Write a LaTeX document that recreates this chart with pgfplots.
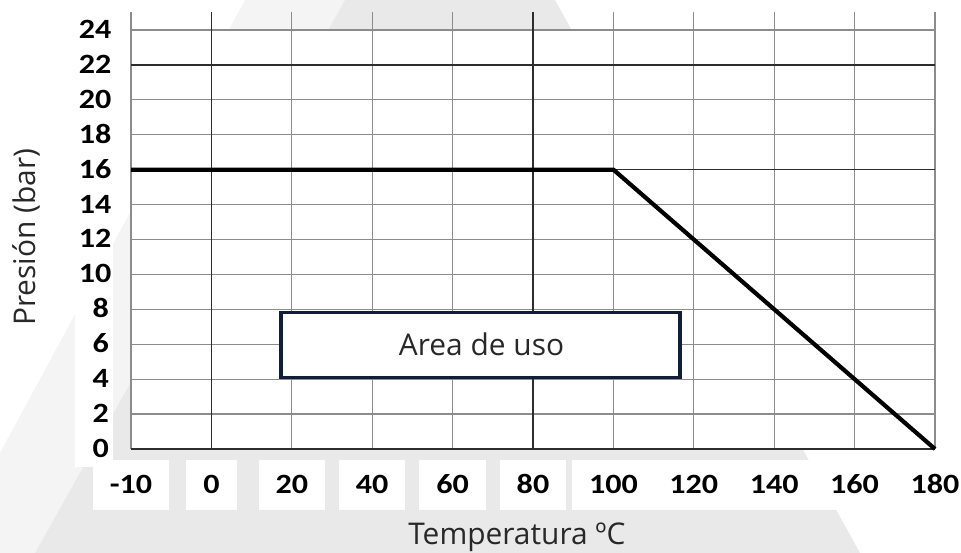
\documentclass[border=0pt]{standalone}
\usepackage{fontspec}
\setmainfont{Open Sans}
\newfontfamily\tickfont{Carlito}[FakeStretch=1.15]
\usepackage{pgfplots}
\pgfplotsset{compat=1.18}
\definecolor{gridlight}{RGB}{140,140,140}
\definecolor{griddark}{RGB}{45,45,45}
\definecolor{boxnavy}{RGB}{16,30,60}
\definecolor{wm}{RGB}{233,233,233}
\definecolor{wmlight}{RGB}{244,244,244}
\definecolor{txt}{RGB}{40,40,40}

\begin{document}
\begin{tikzpicture}
\path[use as bounding box] (0bp,0bp) rectangle (961bp,553bp);
% faint watermark behind the chart
\fill[wmlight] (245bp,553bp) -- (345bp,553bp) -- (35bp,0bp) -- (0bp,0bp) -- (0bp,100bp) -- cycle;
\fill[wm] (345bp,553bp) -- (555bp,553bp) -- (860bp,0bp) -- (35bp,0bp) -- cycle;
\fill[white] (131bp,104bp) rectangle (935bp,523bp);
\begin{axis}[
  at={(131bp,104bp)}, anchor=south west,
  width=804bp, height=437bp, scale only axis,
  xmin=0, xmax=10, ymin=0, ymax=25.03,
  clip=false,
  xtick={0,...,10},
  xticklabels={-10,0,20,40,60,80,100,120,140,160,180},
  ytick={0,2,...,24},
  /pgf/number format/assume math mode=true,
  major tick length=0pt,
  grid=major,
  major grid style={gridlight, line width=1.2bp},
  axis line style={draw=none},
  extra x ticks={1,5}, extra y ticks={0,16,22},
  extra x tick labels={\empty}, extra y tick labels={\empty},
  extra tick style={grid=major, major grid style={griddark, line width=1.6bp},
    xticklabel style={fill=none}, yticklabel style={fill=none}},
  ticklabel style={font=\tickfont\bfseries\fontsize{28}{31}\selectfont, text=black},
  xticklabel style={anchor=north, yshift=-11bp, fill=white, inner xsep=17bp,
    text height=17bp, text depth=0bp, inner ysep=16.5bp},
  yticklabel style={anchor=east, xshift=-18bp, fill=white, text width=30bp,
    align=right, inner xsep=4bp, text height=17bp, text depth=0bp, inner ysep=9bp},
  xlabel={Temperatura ºC}, ylabel={Presión (bar)},
  label style={font=\fontsize{30}{34}\selectfont, text=txt},
  xlabel style={at={(axis description cs:0.48,-0.2174)}, anchor=base},
  ylabel style={at={(axis description cs:-0.1194,0.485)}, anchor=base},
]
\addplot[black, line width=4.2bp] coordinates {(0,16) (6,16) (10,0)};
\draw[boxnavy, line width=3.8bp, fill=white] (axis cs:1.87,4.1) rectangle (axis cs:6.83,7.82);
\node[text=txt, font=\fontsize{30}{34}\selectfont] at (axis cs:4.36,6.01) {Area de uso};
\end{axis}
\end{tikzpicture}
\end{document}
